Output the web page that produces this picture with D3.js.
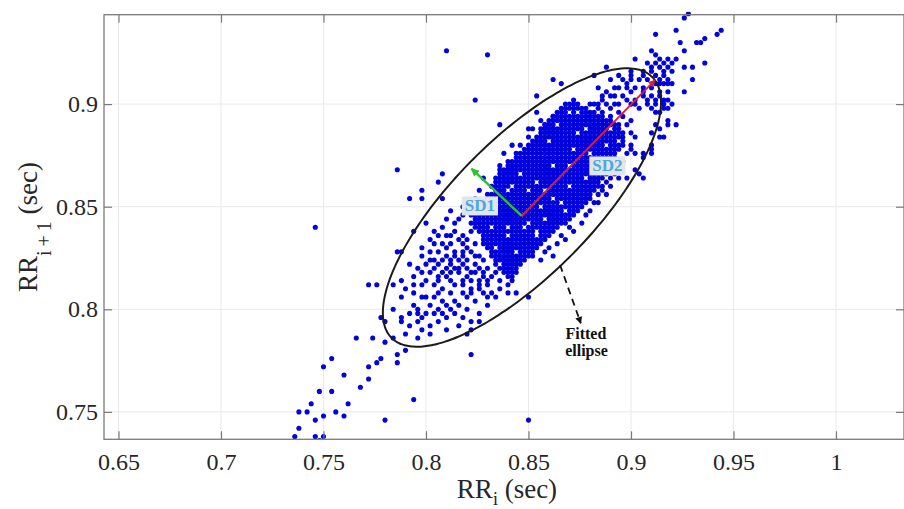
<!DOCTYPE html>
<html><head><meta charset="utf-8">
<script src="https://cdn.jsdelivr.net/npm/d3@7"></script>
<style>html,body{margin:0;padding:0;background:#fff;} svg{display:block}</style>
</head><body><svg id="c" width="904" height="509"></svg>
<script>
// ---------- data ----------
const xTicks = [0.65, 0.7, 0.75, 0.8, 0.85, 0.9, 0.95, 1];
const xTickLabels = ["0.65", "0.7", "0.75", "0.8", "0.85", "0.9", "0.95", "1"];
const yTicks = [0.75, 0.8, 0.85, 0.9];
const yTickLabels = ["0.75", "0.8", "0.85", "0.9"];

// dense core of the cloud, read row by row on the 2 ms sampling grid:
// [RR(i+1) ms, first RR(i) ms, last RR(i) ms]
const coreRows = [
 [900,868,874],[898,866,878],[896,864,882],[894,862,886],[892,860,890],[890,858,892],
 [888,856,894],[886,856,896],[884,854,896],[882,852,896],[880,850,896],[878,848,894],
 [876,846,892],[874,844,892],[872,842,890],[870,840,890],[868,838,888],[866,836,888],
 [864,836,886],[862,834,884],[860,834,884],[858,834,882],[856,832,880],[854,832,880],
 [852,830,878],[850,828,876],[848,826,874],[846,824,872],[844,824,870],[842,824,868],
 [840,824,864],[838,826,862],[836,826,860],[834,828,858],[832,828,856],[830,830,854],
 [828,832,852],[826,832,850],[824,834,848],[822,834,846],[820,836,844],[818,838,844],
 [816,840,842]
];
// empty grid cells inside the core: [RR(i) ms, RR(i+1) ms]
const coreGaps = [
 [840,858],[854,862],[874,886],[870,870],[884,872],[858,858],[866,852],[840,840],[850,842],[854,838],
 [874,896],[870,896],[878,888],[890,888],[894,882],[888,880],[864,890],[860,882],[878,864],[882,854],
 [870,860],[842,860],[850,858],[848,840],[854,836],[858,844],[840,836],[834,830],[862,854],[868,848],
 [832,840],[826,836],[844,828],[836,822],[880,876],[886,868],[846,866],[862,870],[872,878],[856,850]
];

// individual points outside the core: [RR(i) ms, RR(i+1) ms]
const loosePoints = [
 [928,944],[926,942],[912,934],[922,936],[942,934],[944,936],[936,932],[932,930],[934,930],[924,930],
 [926,926],[910,926],[912,924],[936,920],[902,922],[914,922],[918,922],[922,922],
 [908,920],[912,920],[916,920],[920,920],[888,918],[910,918],[914,918],[918,918],[926,918],[930,918],
 [900,916],[906,916],[910,916],[916,916],[920,916],
 [882,914],[894,914],[900,914],[906,914],[912,914],[916,914],
 [890,912],[896,912],[900,912],[904,912],[908,912],[914,912],[918,912],[930,912],
 [898,910],[912,910],[914,910],[916,910],[918,910],[920,910],
 [884,908],[892,908],[894,908],[898,908],[902,908],[906,908],[910,908],
 [888,906],[900,906],[906,906],[914,906],[918,906],[926,906],
 [886,904],[890,904],[892,904],[896,904],[906,904],[910,904],[914,904],
 [872,902],[886,902],[898,902],[902,902],[908,902],[912,902],[916,902],[918,902],
 [880,900],[882,900],[884,900],[888,900],[892,900],[894,900],[900,900],[902,900],[908,900],[912,900],[916,900],[920,900],
 [884,898],[890,898],[904,898],[910,898],[916,898],[918,898],[886,896],[894,896],[912,896],[914,896],
 [890,894],[896,894],[900,892],[894,890],[898,890],[900,886],[902,884],[900,880],[898,876],[896,872],
 [894,868],[892,866],[888,862],[886,860],[884,856],[882,852],[880,848],[878,846],[876,842],[872,838],
 [866,836],[864,832],[860,830],[858,828],[852,826],[854,896],[856,892],[852,888],[850,884],[846,880],
 [844,876],[840,872],[836,868],[834,864],[832,860],[830,856],[828,852],[826,850],[822,846],[822,842],
 [918,892],[912,890],[918,890],[922,890],[914,888],[910,886],[914,884],[916,884],[910,880],
 [900,878],[910,878],[902,876],[906,876],[910,876],[906,874],
 [902,868],[904,866],[906,864],[890,864],[894,864],[898,864],[890,860],[886,858],[888,856],[884,852],
 [810,926],[830,924],[824,902],[854,904],[862,912],[866,910],[836,890],[850,888],[858,890],
 [862,894],[842,880],[838,876],[836,870],[826,858],[824,854],[828,864],
 [786,868],[808,866],[806,862],[798,858],[792,854],[798,854],[808,854],[746,840],
 [814,842],[816,844],[794,838],[804,838],[808,840],[812,836],[814,838],[818,836],[822,838],
 [798,830],[802,834],[808,832],[812,832],[816,834],[818,828],[786,828],[788,828],[820,830],[824,832],
 [798,826],[802,828],[804,824],[810,826],[814,826],[816,824],[820,824],[824,826],[828,824],
 [792,822],[800,822],[806,822],[810,820],[812,822],[816,820],[820,820],[824,822],[826,820],[830,820],
 [788,814],[794,816],[798,818],[802,818],[806,816],[810,816],[812,818],[816,818],[820,816],[824,818],
 [826,814],[832,816],[834,818],[836,814],[840,812],
 [784,812],[798,812],[804,812],[808,810],[814,812],[818,812],[822,810],[826,812],[830,812],[842,814],
 [788,806],[794,802],[798,806],[804,806],[806,808],[812,808],[814,804],[820,806],[822,808],[826,810],
 [830,806],[832,808],[836,810],[850,806],[840,808],[844,808],
 [796,800],[802,802],[810,802],[816,802],
 [784,800],[788,796],[792,798],[796,798],[798,796],[804,798],[806,794],[810,796],[814,798],[818,796],
 [822,794],[826,794],[796,794],[802,792],[788,794],[780,794],
 [784,786],[792,792],[798,790],[802,788],[810,790],[816,792],[822,790],[820,788],[790,788],[796,786],
 [794,808],[800,806],[808,804],[818,808],[824,804],[828,808],[834,806],[806,800],[812,800],[820,800],
 [826,798],[830,802],[800,798],[808,798],[790,810],[794,812],[800,814],[806,814],[812,814],[818,814],
 [822,814],[828,816],[830,814],[796,820],[804,820],[808,818],[814,820],[818,822],[822,818],[828,818],
 [802,824],[808,824],[812,824],[818,826],[806,828],[810,830],[814,828],[822,828],[826,826],[804,832],
 [818,832],[820,834],[810,836],[806,836],[800,842],[810,844],[818,846],[812,848],[818,850],[822,852],
 [856,824],[862,826],[868,834],[870,840],
 [766,786],[774,786],[780,784],[778,776],[776,774],[786,778],[786,774],[790,780],[754,776],[750,772],
 [772,772],[760,768],[772,766],[768,762],[794,756],[748,760],[754,760],[744,754],[762,754],[756,750],
 [760,748],[742,750],[750,748],[746,746],[780,746],[746,738],[750,738],[748,736],[736,738],[738,750],
 [738,742],[850,746],[822,778],[778,796],[776,812],[772,812]
];

const sdOrigin = [0.8467, 0.8455];
const sd1Tip = [0.8222, 0.8685];
const sd2Tip = [0.9117, 0.9117];
const ellipseCenter = [0.8468, 0.8496];
const ellipseSemiAxes = [0.0899, 0.0335]; // along 45° and across
const sdLabels = [{text: "SD1", x: 0.8263, y: 0.8506}, {text: "SD2", x: 0.8885, y: 0.8701}];
const noteArrow = [[0.8654, 0.8216], [0.8755, 0.7932]];
const noteLines = [{text: "Fitted", x: 0.8780, y: 0.7857}, {text: "ellipse", x: 0.8783, y: 0.7772}];

// ---------- build point list ----------
const gapSet = new Set(coreGaps.map(d => d[0] + "," + d[1]));
const points = [];
coreRows.forEach(([yy, x0, x1]) => {
  for (let xx = x0; xx <= x1; xx += 2) {
    if (!gapSet.has(xx + "," + yy)) points.push([xx / 1000, yy / 1000]);
  }
});
loosePoints.forEach(([xx, yy]) => points.push([xx / 1000, yy / 1000]));

// ---------- scales ----------
const L = 104, R = 904, T = 14.7, B = 439.3;
const x = d3.scaleLinear().domain([0.64293, 1.03317]).range([L, R]);
const y = d3.scaleLinear().domain([0.73665, 0.94357]).range([B, T]);

const svg = d3.select("#c");
const FONT = "'Liberation Serif', 'Times New Roman', serif";

const defs = svg.append("defs");
function marker(id, color, w, h) {
  defs.append("marker").attr("id", id).attr("viewBox", "0 0 10 10")
    .attr("refX", 9).attr("refY", 5).attr("markerWidth", w).attr("markerHeight", h)
    .attr("markerUnits", "userSpaceOnUse").attr("orient", "auto")
    .append("path").attr("d", "M0,0 L10,5 L0,10 z").attr("fill", color);
}
marker("mG", "#2cc42c", 9, 8);
marker("mR", "#dc1e3c", 8, 7);
marker("mK", "#111", 8, 7);

defs.append("clipPath").attr("id", "plotClip").append("rect")
  .attr("x", L).attr("y", T - 3).attr("width", R - L).attr("height", B - T + 3);

// grid
const grid = svg.append("g");
grid.selectAll("line.gx").data(xTicks).join("line")
  .attr("x1", d => x(d)).attr("x2", d => x(d)).attr("y1", T).attr("y2", B)
  .attr("stroke", "#e9e9e9").attr("stroke-width", 1);
grid.selectAll("line.gy").data(yTicks).join("line")
  .attr("x1", L).attr("x2", R).attr("y1", d => y(d)).attr("y2", d => y(d))
  .attr("stroke", "#e9e9e9").attr("stroke-width", 1);

// points
svg.append("g").attr("clip-path", "url(#plotClip)")
  .selectAll("circle").data(points).join("circle")
  .attr("cx", d => x(d[0])).attr("cy", d => y(d[1])).attr("r", 2.55)
  .attr("fill", "#0202dc");

// ellipse
const ell = d3.range(0, 361, 2).map(deg => {
  const t = deg * Math.PI / 180, s = Math.SQRT1_2;
  const a = ellipseSemiAxes[0] * Math.cos(t), b = ellipseSemiAxes[1] * Math.sin(t);
  return [ellipseCenter[0] + a * s - b * s, ellipseCenter[1] + a * s + b * s];
});
svg.append("path").datum(ell)
  .attr("d", d3.line().x(d => x(d[0])).y(d => y(d[1])).curve(d3.curveCatmullRomClosed))
  .attr("fill", "none").attr("stroke", "#1b1b1b").attr("stroke-width", 2);

// SD arrows
svg.append("line").attr("x1", x(sdOrigin[0])).attr("y1", y(sdOrigin[1]))
  .attr("x2", x(sd2Tip[0])).attr("y2", y(sd2Tip[1]))
  .attr("stroke", "#dc1e3c").attr("stroke-width", 2).attr("marker-end", "url(#mR)");
svg.append("line").attr("x1", x(sdOrigin[0])).attr("y1", y(sdOrigin[1]))
  .attr("x2", x(sd1Tip[0])).attr("y2", y(sd1Tip[1]))
  .attr("stroke", "#2cc42c").attr("stroke-width", 2.4).attr("marker-end", "url(#mG)");

// dashed annotation arrow
svg.append("line").attr("x1", x(noteArrow[0][0])).attr("y1", y(noteArrow[0][1]))
  .attr("x2", x(noteArrow[1][0])).attr("y2", y(noteArrow[1][1]))
  .attr("stroke", "#111").attr("stroke-width", 1.8).attr("stroke-dasharray", "7,5")
  .attr("marker-end", "url(#mK)");
svg.selectAll("text.note").data(noteLines).join("text").attr("class", "note")
  .attr("x", d => x(d.x)).attr("y", d => y(d.y)).attr("text-anchor", "middle")
  .attr("font-family", FONT).attr("font-weight", "bold").attr("font-size", 16)
  .attr("fill", "#111").text(d => d.text);

// SD labels with boxes
sdLabels.forEach(l => {
  const g = svg.append("g");
  const t = g.append("text").attr("x", x(l.x)).attr("y", y(l.y)).attr("dy", "0.35em")
    .attr("text-anchor", "middle").attr("font-family", FONT).attr("font-weight", "bold")
    .attr("font-size", 17).attr("fill", "#4aa7e2").text(l.text);
  const bb = t.node().getBBox();
  g.insert("rect", "text").attr("x", bb.x - 3).attr("y", bb.y).attr("width", bb.width + 6)
    .attr("height", bb.height).attr("fill", "#dfe5e9");
});

// axes (ticks inward on all four sides)
const axCol = "#7a7a7a";
function styleAxis(g) {
  g.select(".domain").remove();
  g.selectAll(".tick line").attr("stroke", axCol).attr("stroke-width", 1.2);
  g.selectAll(".tick text").attr("font-family", FONT).attr("font-size", 24).attr("fill", "#262626");
}
svg.append("g").attr("transform", `translate(0,${B})`)
  .call(d3.axisBottom(x).tickValues(xTicks).tickFormat((d, i) => xTickLabels[i]).tickSize(-8).tickPadding(14))
  .call(styleAxis);
svg.append("g").attr("transform", `translate(0,${T})`)
  .call(d3.axisTop(x).tickValues(xTicks).tickFormat("").tickSize(-8))
  .call(styleAxis);
svg.append("g").attr("transform", `translate(${L},0)`)
  .call(d3.axisLeft(y).tickValues(yTicks).tickFormat((d, i) => yTickLabels[i]).tickSize(-8).tickPadding(6))
  .call(styleAxis);
svg.append("g").attr("transform", `translate(${R},0)`)
  .call(d3.axisRight(y).tickValues(yTicks).tickFormat("").tickSize(-8))
  .call(styleAxis);

// frame
svg.append("rect").attr("x", L).attr("y", T).attr("width", R - L).attr("height", B - T)
  .attr("fill", "none").attr("stroke", axCol).attr("stroke-width", 1.3);

// axis titles
const xt = svg.append("text").attr("x", 507).attr("y", 498).attr("text-anchor", "middle")
  .attr("font-family", FONT).attr("font-size", 27).attr("fill", "#262626");
xt.append("tspan").text("RR");
xt.append("tspan").attr("dy", 7).attr("font-size", 18).text("i");
xt.append("tspan").attr("dy", -7).text(" (sec)");

const yt = svg.append("text").attr("transform", "translate(37,227) rotate(-90)")
  .attr("text-anchor", "middle").attr("font-family", FONT).attr("font-size", 27).attr("fill", "#262626");
yt.append("tspan").text("RR");
yt.append("tspan").attr("dy", 14).attr("font-size", 20).text("i\u2009+\u20091");
yt.append("tspan").attr("dy", -14).text(" (sec)");
</script>
</body></html>
